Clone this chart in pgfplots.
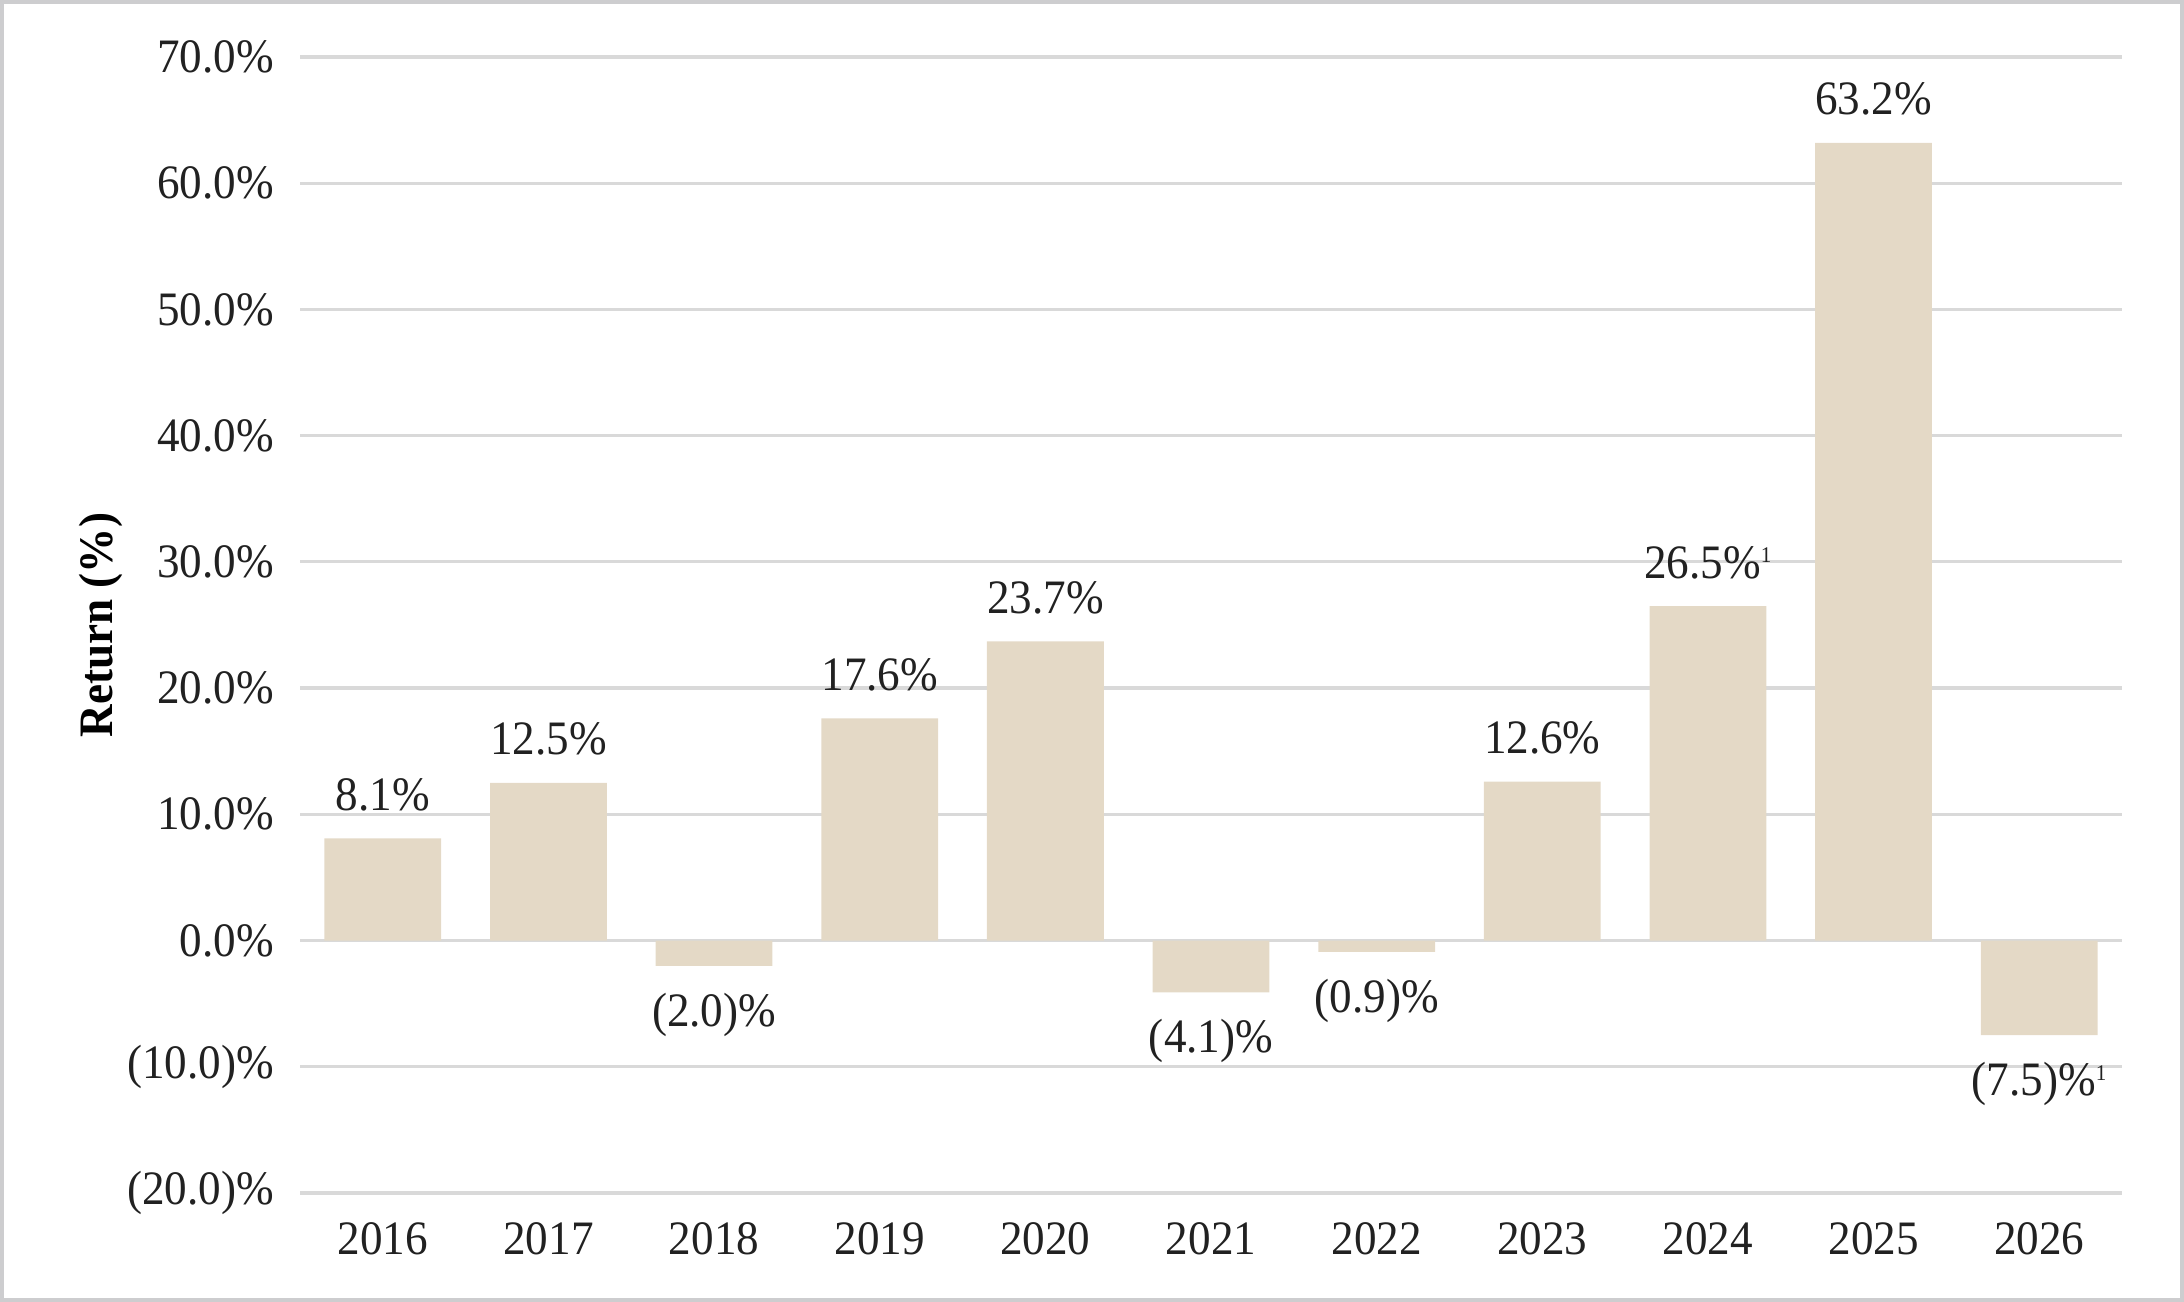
\documentclass[border=0pt]{standalone}
\usepackage{fontspec}
\setmainfont{Liberation Serif}[FakeStretch=0.94]
\usepackage{pgfplots}
\pgfplotsset{compat=1.18}
\definecolor{barc}{HTML}{E4D9C6}
\definecolor{gridc}{HTML}{D9D9D9}
\definecolor{framec}{HTML}{CDCDCF}
\newcommand\fn{\raisebox{3.9pt}{\fontsize{5.6}{6}\selectfont 1}}
\begin{document}
\begin{tikzpicture}
\path[use as bounding box] (0,0) rectangle (546pt,325.5pt);
\begin{axis}[
  at={(75pt,27.25pt)}, anchor=south west,
  scale only axis, width=455.5pt, height=284pt,
  xmin=-0.5, xmax=10.5, ymin=-20, ymax=70,
  xtick={0,1,2,3,4,5,6,7,8,9,10},
  xticklabels={2016,2017,2018,2019,2020,2021,2022,2023,2024,2025,2026},
  ytick={-20,-10,0,10,20,30,40,50,60,70},
  yticklabels={(20.0)\%,(10.0)\%,0.0\%,10.0\%,20.0\%,30.0\%,40.0\%,50.0\%,60.0\%,70.0\%},
  ymajorgrids, grid style={gridc, line width=0.8pt},
  axis line style={draw=none}, tick style={draw=none},
  ticklabel style={font=\fontsize{12}{14}\selectfont, text=black!87},
  yticklabel style={xshift=-3pt},
  xticklabel style={yshift=0.5pt},
  every axis y label/.style={at={([xshift=-49.75pt]rel axis cs:0,0.5)}, anchor=center, rotate=90, font=\fontsize{12}{14}\selectfont\bfseries},
  ylabel={Return (\%)},
  clip=false,
  ybar, bar width=0.705, bar shift=0pt,
  point meta=explicit symbolic,
  nodes near coords={\pgfplotspointmeta},
  every node near coord/.append style={font=\fontsize{12}{14}\selectfont, text=black!87, inner sep=6.6pt},
]
\addplot[fill=barc, draw=none, every node near coord/.append style={anchor=south}] coordinates {
  (0,8.1) [8.1\%]
  (1,12.5) [12.5\%]
  (3,17.6) [17.6\%]
  (4,23.7) [23.7\%]
  (7,12.6) [12.6\%]
  (8,26.5) [26.5\%\fn]
  (9,63.2) [63.2\%]
};
\addplot[fill=barc, draw=none, every node near coord/.append style={anchor=north}] coordinates {
  (2,-2.0) [(2.0)\%]
  (5,-4.1) [(4.1)\%]
  (6,-0.9) [(0.9)\%]
  (10,-7.5) [(7.5)\%\fn]
};
\end{axis}
\draw[framec, line width=1pt] (0.5pt,0.5pt) rectangle (545.5pt,325pt);
\end{tikzpicture}
\end{document}
